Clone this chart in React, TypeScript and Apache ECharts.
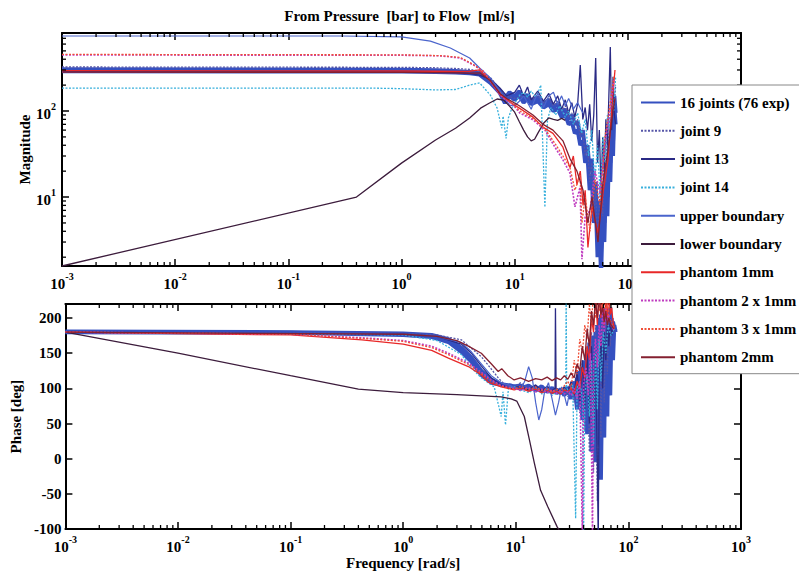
import React, { useEffect, useRef } from 'react';
import * as echarts from 'echarts';

type P = [number, number][];
const FONT = 'Liberation Serif';

const titleText = 'From Pressure  [bar] to Flow  [ml/s]';
const legendNames = ['16 joints (76 exp)', 'joint 9', 'joint 13', 'joint 14', 'upper boundary', 'lower boundary', 'phantom 1mm', 'phantom 2 x 1mm', 'phantom 3 x 1mm', 'phantom 2mm'];

const xDecades = [-3, -2, -1, 0, 1, 2];
const minorMultipliers = [2, 3, 4, 5, 6, 7, 8, 9];
const magDecades = [0, 1, 2];
const magRange = [1.58, 807];
const phaseRange = [-100, 220];
const phaseStep = 50;

// ---------- magnitude ----------
const jointsMagA: P = [[0.001,290],[1,288],[2,285],[3,280],[4,275],[4.9,265],[6.1,212],[7.4,162],[8.2,124],[9,150],[10,135],[11,150],[12,125],[13,140],[14,120],[16,130],[18,110],[20,120],[22,100],[24,105],[26,85],[28,90],[30,70],[32,75],[34,55],[36,60],[38,40],[40,45],[42,25],[44,30],[46,12],[48,18],[50,5],[52,9],[54,2],[56,5],[58,1.2],[60,6],[62,3],[64,15],[66,6],[68,30],[70,15],[72,60],[74,30],[76,110],[78,70]];
const jointsMagB: P = [[0.001,305],[1,302],[2,298],[3,292],[4,285],[4.9,275],[6.1,225],[7.4,172],[8.2,140],[9,165],[10,148],[11,170],[12,140],[13,155],[14,130],[16,145],[18,120],[20,135],[22,110],[24,120],[26,95],[28,105],[30,80],[32,90],[34,70],[36,75],[38,50],[40,60],[42,35],[44,40],[46,20],[48,28],[50,9],[52,15],[54,4],[56,9],[58,2.5],[60,12],[62,5],[64,25],[66,10],[68,45],[70,25],[72,80],[74,45],[76,150],[78,95]];
const joint9Mag: P = [[0.001,325],[1,322],[2,318],[3,312],[4,305],[4.9,290],[6.1,245],[7.4,180],[8.5,150],[10,140],[12,150],[14,135],[16,150],[18,125],[20,140],[22,115],[24,130],[26,100],[28,115],[30,85],[32,95],[34,70],[36,80],[38,50],[40,60],[42,30],[44,40],[46,15],[48,25],[50,6],[52,12],[54,3],[56,8],[58,20],[60,6],[62,40],[64,15],[66,70],[68,40],[70,110],[72,80],[74,170],[76,120],[78,200]];
const joint13Mag: P = [[0.001,290],[1,288],[2,285],[3,280],[4,272],[4.9,262],[6.1,235],[7.4,185],[8.5,150],[10,165],[11,200],[12,150],[13,190],[14,135],[16,170],[18,130],[20,160],[22,120],[24,150],[26,105],[28,135],[30,95],[32,125],[34,85],[36,120],[38,343],[40,80],[42,110],[44,60],[46,120],[48,45],[50,90],[52,413],[54,25],[56,60],[58,12],[60,50],[62,20],[64,80],[66,40],[68,150],[70,555],[72,60],[74,250],[76,90],[78,70]];
const joint14Mag: P = [[0.001,185],[0.5,185],[1,182],[2,176],[3,178],[4,200],[4.9,212],[6.1,153],[7,108],[7.7,63],[7.9,87],[8.4,48],[8.8,83],[9.5,110],[11.1,153],[12,165],[13,145],[14,170],[15,150],[16,160],[17,200],[18.5,7.6],[19.5,80],[21,110],[23,90],[25,115],[28,85],[30,100],[33,70],[36,95],[39,55],[42,80],[45,30],[48,60],[51,15],[54,40],[57,10],[60,50],[63,25],[66,90],[69,60],[72,150],[75,100],[78,250]];
const upperMag: P = [[0.001,745],[0.3,745],[1,726],[1.8,650],[2.7,540],[4,413],[4.9,316],[6.1,242],[7.4,171],[9,117],[10,115],[11,130],[12,150],[13,125],[14,105],[15,135],[16,160],[17,140],[18,110],[20,150],[22,165],[24,120],[26,150],[28,115],[30,140],[33,105],[36,125],[40,95]];
const lowerMag: P = [[0.001,1.58],[0.4,10],[1,24.8],[2,46],[3,63],[4,83],[5,108],[6,124],[7,138],[8,134],[9,114],[10,97],[11,75],[12,60],[13,50],[14,45],[15,47],[16,55],[18,72],[20,83],[22,80],[24,78],[26,82],[28,78]];
const phantom1Mag: P = [[0.001,295],[1,292],[2,290],[3,288],[4,290],[4.9,300],[6.1,223],[7.4,155],[8.5,135],[11,108],[14.5,85],[17.8,65],[21.8,55],[26.7,38],[30.8,22],[33,30],[35.5,14],[38,20],[40.2,8],[42,12],[44.4,2.6],[48.2,7.7],[54.5,3.8],[60.3,11],[66.8,27],[73.9,160],[77,300]];
const phantom2x1Mag: P = [[0.001,448],[1,445],[2.2,438],[3.3,413],[4.28,345],[5.25,292],[6.43,202],[7.88,142],[9.66,118],[11.1,95],[14.5,79],[18.5,60],[22.7,38],[26.7,27],[30.8,19],[34.1,7.7],[37.8,13],[39.3,1.9],[42,6],[46.3,7],[51.3,20],[56.8,11],[62.8,42],[69.6,103],[75.4,229]];
const phantom3x1Mag: P = [[0.001,455],[1,450],[2.2,440],[3.3,420],[4.28,350],[5.25,290],[6.43,205],[7.88,148],[9.66,120],[11.1,100],[14.5,82],[18.5,62],[22.7,42],[26.7,30],[30.8,22],[34.1,12],[37.8,18],[39.3,5],[42,10],[46.3,4],[51.3,16],[56.8,8],[62.8,50],[69.6,120],[75.4,260]];
const phantom2mmMag: P = [[0.001,283],[1,282],[2,280],[3,278],[4,275],[4.9,278],[6.1,225],[7.4,160],[8.5,140],[11,115],[14.5,90],[17.8,70],[21.8,60],[26.7,45],[30.8,28],[35.5,20],[40.2,12],[44.4,5],[48.2,10],[54.5,3],[60.3,15],[66.8,35],[73.9,100],[77,140]];

// ---------- phase ----------
const jointsPhaseA: P = [[0.001,180],[0.1,179],[1,176],[1.79,173],[2.52,166],[3.29,152],[4.03,138],[4.94,119],[6.05,108],[7.42,105],[9.09,102],[11,104],[13,98],[15,102],[17,96],[19,100],[21,94],[23,98],[25,93],[27,100],[29,92],[31,105],[33,85],[35,115],[37,75],[39,130],[41,60],[43,150],[45,40],[47,170],[49,20],[51,180],[53,50],[55,200],[57,-30],[59,160],[61,30],[63,190],[65,60],[67,210],[69,90],[71,200],[73,140],[75,190],[77,180]];
const jointsPhaseB: P = [[0.001,181],[0.1,180],[1,178],[1.79,176],[2.52,170],[3.29,158],[4.03,144],[4.94,125],[6.05,112],[7.42,106],[9.09,104],[11,100],[13,104],[15,97],[17,103],[19,95],[21,101],[23,93],[25,99],[27,90],[29,102],[31,85],[33,110],[35,70],[37,125],[39,55],[41,140],[43,35],[45,165],[47,10],[49,175],[51,-5],[53,190],[55,20],[57,205],[59,40],[61,215],[63,100],[65,200],[67,130],[69,215],[71,150],[73,195],[75,185],[77,182]];
const joint9Phase: P = [[0.001,180],[1,178],[2,176],[3.29,169],[4.94,145],[5.69,133],[6.98,115],[8,105],[9.5,100],[11,108],[13,100],[15,104],[17,97],[19,101],[21,95],[23,99],[25,92],[27,100],[29,88],[31,106],[33,80],[35,120],[37,65],[39,140],[41,40],[43,160],[45,10],[47,180],[49,-20],[51,190],[53,-60],[55,170],[57,30],[59,200],[61,80],[63,210],[65,120],[67,200],[69,160],[71,195],[73,180],[75,185]];
const joint13Phase: P = [[0.001,180],[1,177],[2,174],[3.29,163],[4.03,150],[4.94,132],[6.05,115],[7.42,105],[9,100],[11,103],[13,98],[15,105],[17,96],[19,103],[21,97],[22.3,100],[22.5,214],[22.8,100],[25,95],[27,102],[29,96],[31,110],[33,90],[35,125],[37,80],[39,140],[41,70],[43,150],[45,50],[47,160],[49,30],[51,150],[53,-10],[54,-120],[55,120],[57,170],[59,100],[61,180],[63,140],[65,190],[67,160],[69,200],[71,175],[73,185],[75,182]];
const joint14Phase: P = [[0.001,180],[1,176],[2,168],[3.29,148],[4.03,129],[4.94,115],[6.43,102],[7.42,60],[7.7,95],[8.1,48],[8.6,100],[9.5,103],[11,98],[13,94],[15,100],[17,92],[19,98],[21,90],[23,96],[25,92],[27,98],[27.8,100],[28,235],[28.3,100],[30,95],[32,105],[34,-85],[35,100],[37,110],[39,85],[40,-110],[41,90],[43,120],[45,60],[47,140],[49,20],[51,150],[53,70],[55,170],[57,110],[60,180],[63,150],[66,190],[70,175],[75,185]];
const upperPhase: P = [[0.001,180],[1,177],[2,174],[3.29,165],[4.03,152],[4.94,135],[6.05,118],[7.42,108],[9,104],[10,100],[11,98],[12,110],[13,131],[14,115],[15,80],[16,55],[17,70],[18,95],[19.5,108],[21,85],[22.5,62],[24,80],[25.5,102],[27,90],[28.5,75],[30,95],[32,100]];
const lowerPhase: P = [[0.001,180],[0.01,150],[0.1,118],[0.4,99],[1,94],[3,91],[7.4,88],[9.1,85],[10.2,82],[11.9,60],[13.2,27],[14.6,-6],[16.6,-45],[19.2,-68],[23.3,-97],[25,-105]];
const phantom1Phase: P = [[0.001,180],[0.1,176],[0.43,169],[1,163],[1.79,154],[2.52,143],[3.79,131],[4.94,119],[5.69,109],[7.42,102],[9.66,98],[11,100],[13,96],[15,99],[17,94],[19,97],[21,93],[23,96],[25,92],[27,98],[29,95],[31,100],[33,92],[35,110],[37,100],[39,130],[41,115],[43,160],[45,140],[47,200],[49,180],[51,230],[53,190],[55,240],[57,200],[59,230],[61,190],[63,225],[65,200],[67,240],[69,205],[71,215],[73,195],[75,185]];
const phantom2x1Phase: P = [[0.001,180],[0.1,177],[0.43,172],[1,168],[1.79,160],[2.52,150],[3.79,136],[4.94,123],[6.05,112],[7.42,104],[9.66,100],[11,97],[13,101],[15,95],[17,99],[19,94],[21,98],[23,93],[25,97],[27,92],[29,96],[31,90],[33,100],[35,85],[37,110],[39,-110],[40,105],[42,130],[44,90],[46,150],[48,-110],[49,140],[51,170],[53,130],[55,190],[57,160],[59,210],[61,180],[63,215],[65,195],[67,205],[70,190],[74,183]];
const phantom3x1Phase: P = [[0.001,180],[0.1,177],[0.43,171],[1,167],[1.79,158],[2.52,148],[3.79,134],[4.94,121],[6.05,110],[7.42,103],[9.66,99],[11,103],[13,98],[15,102],[17,97],[19,100],[21,95],[23,99],[25,96],[27,104],[29,110],[31,100],[33,140],[35,120],[37,170],[39,150],[41,190],[43,170],[45,220],[47,190],[49,240],[51,200],[53,230],[55,210],[57,240],[59,215],[61,235],[63,205],[65,225],[67,200],[70,195],[74,186]];
const phantom2mmPhase: P = [[0.001,180],[1,177],[2,174],[3,168],[3.79,160],[4.94,150],[6.05,135],[6.98,124],[7.5,128],[8.5,118],[9.66,112],[11,115],[13,110],[15,114],[17,112],[19,116],[21,111],[23,115],[25,112],[27,118],[29,113],[31,122],[33,115],[35,135],[37,125],[39,160],[41,140],[43,185],[45,160],[47,210],[49,190],[51,225],[53,200],[55,230],[57,205],[59,215],[61,195],[63,210],[65,190],[67,200],[70,190],[74,185]];

const styles: Record<string, { color: string; width: number; type: any }> = {
  '16 joints (76 exp)': { color: '#3550c0', width: 4, type: 'solid' },
  'joint 9': { color: '#5656a8', width: 1.3, type: [2, 1.5] },
  'joint 13': { color: '#2a2a85', width: 1.3, type: 'solid' },
  'joint 14': { color: '#38b0dc', width: 1.3, type: [2, 1.5] },
  'upper boundary': { color: '#4a64cc', width: 1.2, type: 'solid' },
  'lower boundary': { color: '#3c1c3c', width: 1.3, type: 'solid' },
  'phantom 1mm': { color: '#e82828', width: 1.3, type: 'solid' },
  'phantom 2 x 1mm': { color: '#c03cc0', width: 1.6, type: [2, 1.5] },
  'phantom 3 x 1mm': { color: '#f05038', width: 1.3, type: [2, 1.5] },
  'phantom 2mm': { color: '#842030', width: 1.3, type: 'solid' },
};

const magSeries: [string, P][] = [
  ['16 joints (76 exp)', jointsMagA], ['16 joints (76 exp)', jointsMagB],
  ['joint 9', joint9Mag], ['joint 13', joint13Mag], ['joint 14', joint14Mag],
  ['upper boundary', upperMag], ['lower boundary', lowerMag],
  ['phantom 1mm', phantom1Mag], ['phantom 2 x 1mm', phantom2x1Mag], ['phantom 3 x 1mm', phantom3x1Mag], ['phantom 2mm', phantom2mmMag],
];
const phaseSeries: [string, P][] = [
  ['16 joints (76 exp)', jointsPhaseA], ['16 joints (76 exp)', jointsPhaseB],
  ['joint 9', joint9Phase], ['joint 13', joint13Phase], ['joint 14', joint14Phase],
  ['upper boundary', upperPhase], ['lower boundary', lowerPhase],
  ['phantom 1mm', phantom1Phase], ['phantom 2 x 1mm', phantom2x1Phase], ['phantom 3 x 1mm', phantom3x1Phase], ['phantom 2mm', phantom2mmPhase],
];

const xMinorTicks: number[] = [];
xDecades.forEach((d) => minorMultipliers.forEach((m) => xMinorTicks.push(m * Math.pow(10, d))));
const magMinorTicks: number[] = [];
magDecades.forEach((d) => minorMultipliers.forEach((m) => {
  const v = m * Math.pow(10, d);
  if (v > magRange[0] && v < magRange[1]) magMinorTicks.push(v);
}));

// exponent labels hidden under the legend box in the top panel
const hiddenTopExponents = [3];

const powLabel = (hidden: number[]) => (v: number) => {
  const e = Math.log10(v);
  const r = Math.round(e);
  if (Math.abs(e - r) > 1e-6 || hidden.indexOf(r) >= 0) return '';
  return `{b|10}{s|${r}}`;
};
const richPow = {
  b: { fontFamily: FONT, fontWeight: 'bold', fontSize: 15, color: '#000', lineHeight: 20, verticalAlign: 'bottom' },
  s: { fontFamily: FONT, fontWeight: 'bold', fontSize: 10, color: '#000', lineHeight: 10, verticalAlign: 'top' },
};

const axisLine = { show: true, onZero: false, lineStyle: { color: '#000', width: 2 } };
const axisTick = { show: true, inside: true, length: 7, lineStyle: { color: '#000', width: 1.5 } };

const xAxisBase = (grid: number, pos: 'bottom' | 'top', labels: boolean, hidden: number[], extra: any = {}) => ({
  type: 'log', logBase: 10, min: 0.001, max: 1000, gridIndex: grid, position: pos,
  axisLine, axisTick, splitLine: { show: false },
  axisLabel: { show: labels, formatter: powLabel(hidden), rich: richPow, margin: 5 },
  ...extra,
});

const tickSeries = (grid: number, ticks: number[], refY: number, dir: 'x' | 'y', refX = 0.01) => ({
  type: 'custom', xAxisIndex: grid * 2, yAxisIndex: grid * 2, silent: true, z: 3,
  data: ticks.map((t) => (dir === 'x' ? [t, refY] : [refX, t])),
  renderItem: (params: any, api: any) => {
    const p = api.coord([api.value(0), api.value(1)]);
    const cs = params.coordSys;
    const st = { stroke: '#000', lineWidth: 1.3 };
    const L = 4;
    if (dir === 'x') {
      return { type: 'group', children: [
        { type: 'line', shape: { x1: p[0], y1: cs.y + cs.height, x2: p[0], y2: cs.y + cs.height - L }, style: st },
        { type: 'line', shape: { x1: p[0], y1: cs.y, x2: p[0], y2: cs.y + L }, style: st },
      ] };
    }
    return { type: 'group', children: [
      { type: 'line', shape: { x1: cs.x, y1: p[1], x2: cs.x + L, y2: p[1] }, style: st },
      { type: 'line', shape: { x1: cs.x + cs.width, y1: p[1], x2: cs.x + cs.width - L, y2: p[1] }, style: st },
    ] };
  },
});

export default function App() {
  const ref = useRef<HTMLDivElement>(null);
  useEffect(() => {
    if (!ref.current) return;
    const chart = echarts.init(ref.current, undefined, { renderer: 'svg' });
    const mkLine = (name: string, data: P, grid: number) => {
      const s = styles[name];
      return {
        type: 'line', name, data, xAxisIndex: grid * 2, yAxisIndex: grid * 2,
        symbol: 'none', showSymbol: false, smooth: false, silent: true, z: 2,
        lineStyle: { color: s.color, width: s.width, type: s.type },
        itemStyle: { color: s.color, opacity: 0 },
        emphasis: { disabled: true },
      };
    };
    const nameStyle = { fontFamily: FONT, fontWeight: 'bold', fontSize: 15, color: '#000' };
    const option: any = {
      animation: false,
      backgroundColor: '#fff',
      textStyle: { fontFamily: FONT },
      title: { text: titleText, left: 'center', top: 3, textStyle: { fontFamily: FONT, fontWeight: 'bold', fontSize: 15, color: '#000' } },
      grid: [
        { left: 62, top: 33, width: 679, height: 233 },
        { left: 62, top: 304, width: 679, height: 225 },
      ],
      xAxis: [
        xAxisBase(0, 'bottom', true, hiddenTopExponents),
        xAxisBase(0, 'top', false, []),
        xAxisBase(1, 'bottom', true, [], { name: 'Frequency [rad/s]', nameLocation: 'middle', nameGap: 26, nameMoveOverlap: false, nameTextStyle: nameStyle }),
        xAxisBase(1, 'top', false, []),
      ],
      yAxis: [
        { type: 'log', logBase: 10, min: magRange[0], max: magRange[1], gridIndex: 0, position: 'left', axisLine, axisTick, splitLine: { show: false },
          axisLabel: { formatter: powLabel([]), rich: richPow, margin: 6 },
          name: 'Magnitude', nameLocation: 'middle', nameGap: 30, nameMoveOverlap: false, nameTextStyle: nameStyle },
        { type: 'log', logBase: 10, min: magRange[0], max: magRange[1], gridIndex: 0, position: 'right', axisLine, axisTick, splitLine: { show: false }, axisLabel: { show: false } },
        { type: 'value', min: phaseRange[0], max: phaseRange[1], interval: phaseStep, gridIndex: 1, position: 'left', axisLine, axisTick, splitLine: { show: false },
          axisLabel: { formatter: (v: number) => (v % phaseStep === 0 ? String(v) : ''), fontFamily: FONT, fontWeight: 'bold', fontSize: 15, color: '#000', margin: 4 },
          name: 'Phase [deg]', nameLocation: 'middle', nameGap: 38, nameTextStyle: nameStyle },
        { type: 'value', min: phaseRange[0], max: phaseRange[1], interval: phaseStep, gridIndex: 1, position: 'right', axisLine, axisTick, splitLine: { show: false }, axisLabel: { show: false } },
      ],
      legend: {
        data: legendNames, orient: 'vertical', left: 632, top: 85,
        padding: [10, 30, 9, 8], itemWidth: 34, itemHeight: 14, itemGap: 13.3,
        backgroundColor: '#fff', borderColor: '#888', borderWidth: 1, selectedMode: false,
        itemStyle: { opacity: 0 },
        textStyle: { fontFamily: FONT, fontWeight: 'bold', fontSize: 15, color: '#000' },
      },
      series: [
        ...magSeries.map(([n, d]) => mkLine(n, d, 0)),
        ...phaseSeries.map(([n, d]) => mkLine(n, d, 1)),
        tickSeries(0, xMinorTicks, 10, 'x'),
        tickSeries(1, xMinorTicks, 0, 'x'),
        tickSeries(0, magMinorTicks, 0, 'y'),
      ],
    };
    chart.setOption(option);
    return () => chart.dispose();
  }, []);
  return <div ref={ref} style={{ position: 'fixed', left: 0, top: 0, width: 799, height: 573, background: '#fff' }} />;
}
